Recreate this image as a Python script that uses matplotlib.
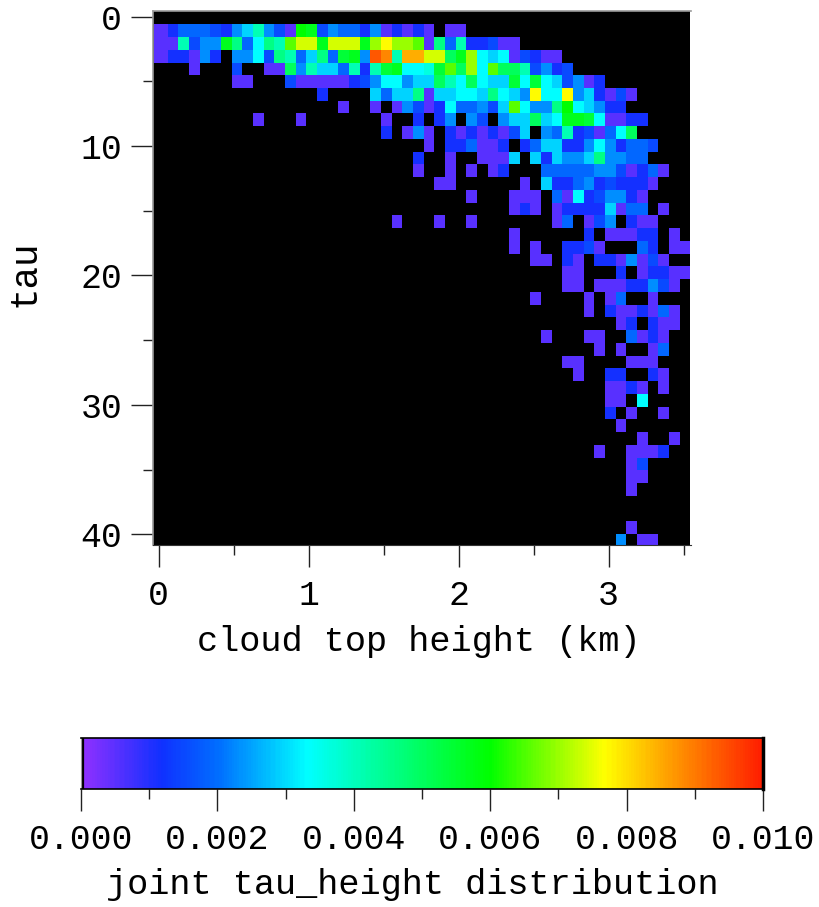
import numpy as np
import matplotlib
matplotlib.use("Agg")
import matplotlib.pyplot as plt
from matplotlib.colors import LinearSegmentedColormap

plt.rcParams['font.family'] = ['Liberation Mono', 'DejaVu Sans Mono']

W, H = 820, 907

# joint distribution, one string per tau row
# each char is a level from level_values, "_" is ten empty cells
grid_rows = [
    "",
    "124443257a 531fe35442 51212 1.11",
    "11a355eb48 bagiieiiie hjhhg1b4a2 2311",
    "122152.558 3ba47b4de5 nmalliiceh 87813211",
    "...1...3.. 11c5a774a2 ade889dgch 8gcca3523",
    ".......11. ..31111123 588577ca8c 877d8d8735 12",
    "_ .....2.... 7477b17788 7b875j88j5 72131",
    "_ .......1.. 1.15312844 537g855bf8 7522",
    ".........1 ...1...... .1..2.25.5 3.577c78ee d81122",
    "_ _ .2.151.212 12137.54a2 3148c",
    "_ _ .....1.224 112.247722 5852443",
    "_ _ ....2..1.. 1117.72755 7b5544",
    "_ _ ....1..1.1 .12...4444 45531241",
    "_ _ ......11.. ....1.7224 5232221",
    "_ _ .........1 ...111.418 235521",
    "_ _ _ ...121.122 227144.1",
    "_ _ ..1...1..1 .......14. 135.211",
    "_ _ _ ...1...... 2.11122.1",
    "_ _ _ ...1.1..22 31...42.11",
    "_ _ _ .....11.21 .2215131",
    "_ _ _ ........11 ...2.12211",
    "_ _ _ ........11 .11122531",
    "_ _ _ .....1.... 1.14..1",
    "_ _ _ _ 1.2112141",
    "_ _ _ _ ...12.211",
    "_ _ _ ......1... 11..4121",
    "_ _ _ _ .1.1..14",
    "_ _ _ ........11 ....111",
    "_ _ _ .........1 ..22..21",
    "_ _ _ _ ..1121.1",
    "_ _ _ _ ..11.8",
    "_ _ _ _ ..2.1..1",
    "_ _ _ _ ...1",
    "_ _ _ _ .....1..1",
    "_ _ _ _ .1..1112",
    "_ _ _ _ ....13",
    "_ _ _ _ ....11",
    "_ _ _ _ ....1",
    "",
    "",
    "_ _ _ _ ....1",
    "_ _ _ _ ...5.11",
]
level_chars = ".123456789abcdefghijklmno"
level_values = [0, .0005, .0011, .0015, .0019, .0023, .0026, .0029, .0033, .0036,
                .0041, .0046, .005, .0054, .0057, .006, .0066, .007, .0074, .0077,
                .008, .0085, .0089, .0094, .0098]

x_major = [0, 1, 2, 3]
x_minor = [0.5, 1.5, 2.5, 3.5]
y_major = [0, 10, 20, 30, 40]
y_minor = [5, 15, 25, 35]
cb_major = [0, .002, .004, .006, .008, .01]
cb_minor = [.001, .003, .005, .007, .009]
cb_labels = ["0.000", "0.002", "0.004", "0.006", "0.008", "0.010"]

lookup = dict(zip(level_chars, level_values))
grid = []
for row in grid_rows:
    s = row.replace("_", "." * 10).replace(" ", "").ljust(50, ".")
    grid.append([lookup[c] for c in s])
grid = np.ma.masked_equal(np.array(grid), 0)

cmap = LinearSegmentedColormap.from_list("rb", [
    (0.0, "#8c30ff"), (0.113, "#1030ff"), (0.2, "#0070ff"), (0.33, "#00ffff"),
    (0.42, "#00ffa8"), (0.6, "#00ff00"), (0.77, "#ffff00"), (0.88, "#ff9000"),
    (1.0, "#ff2000")])
cmap.set_bad("black")


def px_axes(left, right, top, bottom):
    return fig.add_axes([left / W, 1 - bottom / H, (right - left) / W, (bottom - top) / H])


fig = plt.figure(figsize=(W / 100, H / 100), dpi=100)

ax = px_axes(153.5, 690.5, 10.5, 545)
x_edges = np.r_[-0.03, np.linspace(0.0607, 3.546, 50)]
y_edges = np.r_[-0.479, np.linspace(0.587, 39.98, 41), 40.83]
ax.pcolormesh(x_edges, y_edges, grid, cmap=cmap, vmin=0, vmax=0.01, antialiased=False)
ax.set_facecolor("black")
ax.set_xlim(-0.034, 3.546)
ax.set_ylim(40.83, -0.479)
ax.set_xticks(x_major)
ax.set_xticks(x_minor, minor=True)
ax.set_yticks(y_major)
ax.set_yticks(y_minor, minor=True)
ax.tick_params(which="major", length=15.5, width=1, labelsize=25, pad=7, color="#222222")
ax.tick_params(axis="x", which="major", pad=9)
ax.tick_params(which="minor", length=7.5, width=1, color="#222222")
ax.spines["top"].set_color("#999999")
ax.spines["left"].set_color("#999999")
ax.spines["top"].set_linewidth(1.2)
ax.spines["left"].set_linewidth(1.2)
ax.spines["bottom"].set_color("#333333")
ax.spines["right"].set_visible(False)
ax.set_xlabel("cloud top height (km)", fontsize=25.4)
ax.xaxis.set_label_coords((419 - 153.5) / 537, -(641 - 545) / 534.5, ax.transAxes)
ax.xaxis.label.set_va("center")
ax.set_ylabel("tau", fontsize=27)
ax.yaxis.set_label_coords((25 - 153.5) / 537, 1 - (273 - 10.5) / 534.5, ax.transAxes)
ax.yaxis.label.set_va("center")

cax = px_axes(81, 763, 738, 789)
grad = np.linspace(0, 0.01, 400).reshape(1, -1)
cax.pcolormesh(np.linspace(0.00003, 0.00998, 401), [0, 1], grad, cmap=cmap, vmin=0, vmax=0.01)
cax.set_xlim(0, 0.01)
cax.set_ylim(0, 1)
cax.axvline(0.00003, color="black", lw=1.6)
cax.set_yticks([])
cax.set_xticks(cb_major, cb_labels)
cax.set_xticks(cb_minor, minor=True)
cax.tick_params(which="major", length=15.5, width=1, labelsize=25, pad=9, color="#222222")
cax.tick_params(which="minor", length=7.5, width=1, color="#222222")
for side in ["top", "bottom"]:
    cax.spines[side].set_linewidth(1.2)
cax.spines["left"].set_color("#999999")
cax.spines["right"].set_linewidth(2.5)
cax.set_xlabel("joint tau_height distribution", fontsize=25.4)
cax.xaxis.set_label_coords((412 - 81) / 682, -(884 - 789) / 51, cax.transAxes)
cax.xaxis.label.set_va("center")

fig.savefig("out.png", dpi=100)
